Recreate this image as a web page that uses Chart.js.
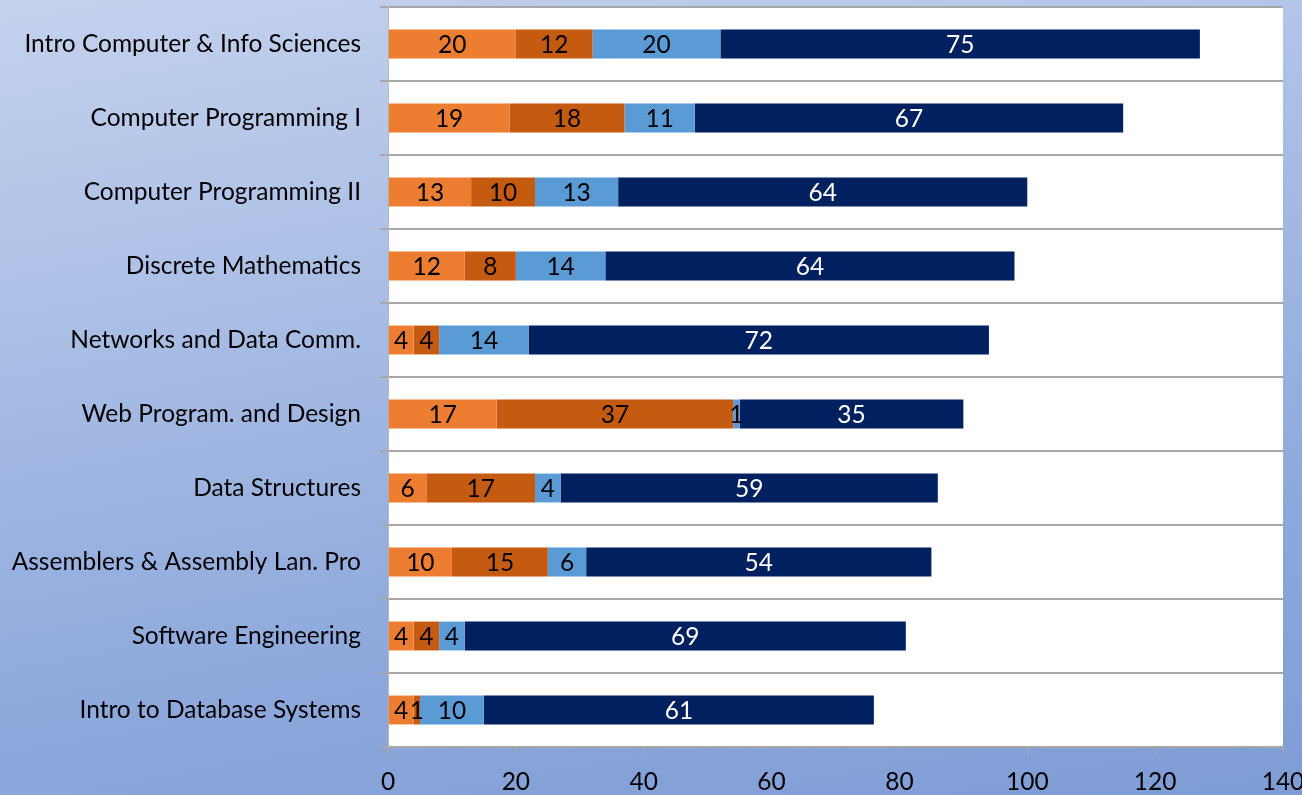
<!DOCTYPE html>
<html>
<head>
<meta charset="utf-8">
<script src="https://cdn.jsdelivr.net/npm/chart.js@4/dist/chart.umd.min.js"></script>
<style>
  html, body { margin: 0; padding: 0; overflow: hidden; }
  body {
    width: 1302px; height: 795px;
    background: linear-gradient(170deg, #c4d2ed 0%, #a9bde5 35%, #8ea9dc 70%, #7e9cd5 100%);
  }
  canvas { display: block; }
</style>
</head>
<body>
<canvas id="c" width="1302" height="795"></canvas>
<script>
const categories = [
  "Intro Computer & Info Sciences",
  "Computer Programming I",
  "Computer Programming II",
  "Discrete Mathematics",
  "Networks and Data Comm.",
  "Web Program. and Design",
  "Data Structures",
  "Assemblers & Assembly Lan. Pro",
  "Software Engineering",
  "Intro to Database Systems"
];
const seriesA = [20, 19, 13, 12, 4, 17, 6, 10, 4, 4];
const seriesB = [12, 18, 10, 8, 4, 37, 17, 15, 4, 1];
const seriesC = [20, 11, 13, 14, 14, 1, 4, 6, 4, 10];
const seriesD = [75, 67, 64, 64, 72, 35, 59, 54, 69, 61];
const xTicks = [0, 20, 40, 60, 80, 100, 120, 140];

const FONT = "Lato";
const FS = 24.5;

const plotBg = {
  id: 'plotBg',
  beforeDraw(chart) {
    const {ctx, chartArea: a} = chart;
    ctx.save();
    ctx.fillStyle = '#ffffff';
    ctx.fillRect(a.left, a.top, a.right - a.left, a.bottom - a.top);
    ctx.restore();
  }
};

const valueLabels = {
  id: 'valueLabels',
  afterDatasetsDraw(chart) {
    const ctx = chart.ctx;
    ctx.save();
    ctx.font = FS + 'px ' + FONT;
    ctx.textAlign = 'center';
    ctx.textBaseline = 'middle';
    chart.data.datasets.forEach((ds, i) => {
      const meta = chart.getDatasetMeta(i);
      ctx.fillStyle = ds.labelColor;
      meta.data.forEach((el, j) => {
        const v = ds.data[j];
        const cx = (el.x + el.base) / 2;
        ctx.fillText(String(v), cx, el.y + 1);
      });
    });
    ctx.restore();
  }
};

new Chart(document.getElementById('c'), {
  type: 'bar',
  data: {
    labels: categories,
    datasets: [
      { label: 'A', data: seriesA, backgroundColor: '#ED7D31', labelColor: '#000000' },
      { label: 'B', data: seriesB, backgroundColor: '#C55A11', labelColor: '#000000' },
      { label: 'C', data: seriesC, backgroundColor: '#5B9BD5', labelColor: '#000000' },
      { label: 'D', data: seriesD, backgroundColor: '#002060', labelColor: '#ffffff' }
    ]
  },
  options: {
    indexAxis: 'y',
    responsive: false,
    animation: false,
    devicePixelRatio: 1,
    barPercentage: 0.39,
    categoryPercentage: 1,
    layout: { padding: { top: 7, right: 19, left: 0, bottom: 0 } },
    plugins: { legend: { display: false }, tooltip: { enabled: false } },
    scales: {
      x: {
        stacked: true,
        min: 0, max: 140,
        afterBuildTicks(scale) { scale.ticks = xTicks.map(v => ({ value: v })); },
        afterFit(scale) {
          scale.height = 48;
          scale.paddingLeft = 0; scale.paddingRight = 0;
          scale.paddingTop = 0; scale.paddingBottom = 0;
        },
        grid: { color: 'transparent', tickColor: '#a6a6a6', tickLength: 8, drawTicks: true, lineWidth: 1.5 },
        border: { display: true, color: '#a6a6a6', width: 2 },
        ticks: { color: '#000', font: { family: FONT, size: FS }, padding: 12, maxRotation: 0 }
      },
      y: {
        stacked: true,
        afterFit(scale) {
          scale.width = 388;
          scale.paddingLeft = 0; scale.paddingRight = 0;
          scale.paddingTop = 0; scale.paddingBottom = 0;
        },
        grid: { color: '#a6a6a6', lineWidth: 2, tickLength: 8, offset: true },
        border: { display: true, color: '#b8b8b8', width: 1 },
        ticks: { color: '#000', font: { family: FONT, size: FS }, padding: 19 }
      }
    }
  },
  plugins: [plotBg, valueLabels]
});
</script>
</body>
</html>
